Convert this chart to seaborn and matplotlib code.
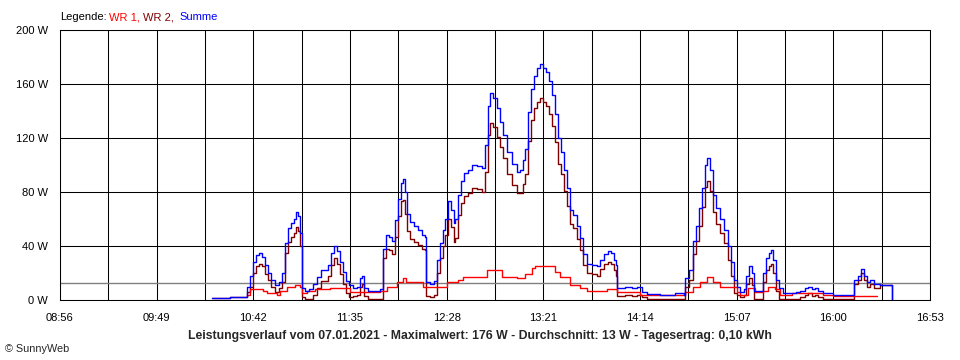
import numpy as np
import pandas as pd
import matplotlib
matplotlib.use("Agg")
import matplotlib.pyplot as plt
import seaborn as sns

# times are minutes after midnight, values in W
summe_t = [619.3, 629.2, 637.4, 638.5, 640.2, 641.8, 643.5, 645.1, 646.8, 648.4,
           650.0, 651.7, 653.9, 656.1, 657.7, 659.4, 661.0, 662.7, 664.3, 665.4,
           666.5, 667.6, 668.7, 670.3, 672.5, 674.7, 676.9, 679.1, 681.3, 682.9,
           684.6, 686.2, 687.9, 689.5, 691.2, 692.8, 694.5, 696.6, 698.8, 700.5,
           701.6, 702.7, 704.9, 708.2, 711.5, 713.1, 714.7, 716.4, 718.0, 719.7,
           721.3, 723.0, 724.1, 725.2, 726.3, 727.9, 730.1, 732.3, 734.5, 736.1,
           736.7, 738.9, 741.1, 742.7, 744.3, 746.0, 747.1, 748.7, 750.4, 752.0,
           752.6, 754.2, 755.9, 757.5, 759.7, 761.9, 764.6, 767.4, 769.0, 770.7,
           771.8, 773.4, 775.6, 777.2, 778.9, 781.1, 783.8, 786.6, 788.2, 789.9,
           791.0, 792.6, 794.2, 795.9, 797.5, 799.2, 800.8, 802.5, 804.1, 805.8,
           807.4, 809.0, 810.7, 812.3, 814.0, 815.6, 817.3, 819.5, 821.1, 822.8,
           824.9, 827.7, 830.4, 832.1, 834.3, 836.5, 838.1, 839.8, 840.8, 841.4,
           843.0, 845.8, 849.6, 852.4, 855.1, 857.8, 865.0, 873.2, 878.1, 878.7,
           880.9, 883.1, 884.7, 886.4, 888.0, 889.6, 890.7, 892.4, 894.0, 895.7,
           897.9, 900.1, 902.3, 903.9, 905.5, 907.2, 908.8, 911.0, 912.1, 913.8,
           915.4, 916.5, 919.8, 921.4, 923.1, 924.7, 925.8, 926.9, 928.6, 930.2,
           932.4, 936.2, 939.5, 941.7, 944.5, 946.1, 948.3, 950.0, 951.6, 954.3,
           959.8, 966.4, 970.8, 971.3, 973.5, 975.2, 976.8, 978.5, 980.1, 982.3,
           985.6, 990.0, 992.2]
summe_w = [1.5, 2, 2.5, 10, 18, 28, 33, 35, 32, 26,
           20, 15, 11, 13, 20, 42, 53, 57, 60, 65,
           62, 50, 9, 7, 8, 12, 17, 22, 22, 26,
           35, 40, 36, 28, 21, 14, 11, 9, 10, 16,
           18, 9, 7, 7, 8, 38, 48, 47, 44, 59,
           75, 87, 90, 80, 64, 58, 55, 52, 48, 47,
           13, 12, 14, 30, 42, 52, 60, 73, 67, 57,
           60, 78, 88, 94, 96, 100, 99, 98, 115, 144,
           153, 150, 142, 132, 122, 110, 101, 95, 96, 104,
           112, 139, 156, 166, 172, 175, 172, 169, 162, 152,
           138, 120, 110, 96, 83, 67, 63, 55, 46, 34,
           27, 26, 25, 30, 34, 36, 35, 30, 26, 9,
           9, 10, 9, 10, 6, 4.5, 4, 5, 4, 16,
           22, 44, 55, 68, 83, 100, 105, 96, 78, 68,
           60, 52, 40, 28, 15, 10, 6, 8, 18, 25,
           20, 7, 7, 20, 31, 35, 37, 30, 15, 9,
           5, 5, 6, 7, 9, 10, 8, 9, 7, 5,
           4, 4, 4, 15, 18, 23, 18, 13, 15, 12,
           11, 11, 0]
wr2_w = [1.5, 2, 2.5, 6, 10, 20, 25, 27, 25, 19,
         15, 10, 6, 9, 13, 35, 43, 47, 50, 54,
         51, 40, 2, 1, 1, 4, 9, 14, 14, 18,
         26, 31, 27, 19, 12, 5, 2, 3, 4, 10,
         12, 3, 1, 1, 1, 31, 38, 37, 34, 47,
         62, 73, 74, 64, 51, 45, 43, 41, 38, 37,
         3, 2, 4, 20, 31, 40, 48, 60, 54, 43,
         46, 63, 72, 77, 79, 83, 82, 80, 95, 122,
         131, 128, 121, 113, 105, 93, 85, 79, 79, 86,
         93, 118, 133, 142, 147, 150, 147, 144, 138, 129,
         117, 101, 93, 81, 70, 56, 53, 45, 37, 26,
         20, 19, 18, 23, 27, 28, 27, 22, 18, 3,
         3, 4, 3, 4, 2, 1, 0.5, 1, 0.5, 10,
         15, 34, 44, 55, 69, 84, 88, 81, 65, 56,
         50, 42, 30, 18, 5, 4, 2, 4, 12, 16,
         11, 1, 1, 13, 22, 25, 27, 20, 7, 1,
         1, 1, 1, 2, 4, 5, 3, 4, 2, 1,
         1, 1, 1, 12, 15, 20, 15, 10, 12, 9,
         11, 11, 0]

wr1_t = [638.5, 640.2, 644.6, 647.3, 649.5, 655.0, 656.6, 660.5, 664.8, 667.6,
         668.7, 671.4, 675.8, 684.0, 691.2, 695.0, 702.1, 711.5, 715.3, 720.8,
         724.1, 725.7, 735.0, 742.7, 748.2, 754.2, 757.0, 766.3, 770.1, 774.5,
         778.3, 786.6, 791.0, 794.8, 796.4, 803.0, 807.4, 810.1, 815.6, 821.1,
         824.9, 833.7, 835.9, 841.4, 854.0, 878.7, 883.1, 886.9, 890.7, 894.0,
         897.9, 904.4, 907.2, 908.8, 913.2, 917.1, 921.4, 924.2, 928.0, 930.8,
         937.3, 948.9, 954.3, 959.8, 983.9]
wr1_w = [4, 8, 8, 7, 5, 4, 7, 10, 11, 10,
         5, 7, 8, 9, 9, 6, 6, 7, 10, 13,
         16, 13, 10, 10, 13, 15, 17, 17, 22, 22,
         17, 16, 19, 24, 25, 25, 21, 17, 11, 9,
         7, 7, 8, 6, 3.5, 6, 10, 13, 17, 13,
         10, 10, 6, 4, 9, 6, 7, 10, 8, 4,
         5, 5, 4, 3, 3]

avg_w = 12.4
x_labels = ["08:56", "09:49", "10:42", "11:35", "12:28",
            "13:21", "14:14", "15:07", "16:00", "16:53"]
y_ticks = [0, 40, 80, 120, 160, 200]
title = ("Leistungsverlauf vom 07.01.2021 - Maximalwert: 176 W - "
         "Durchschnitt: 13 W - Tagesertrag: 0,10 kWh")

df_sum = pd.DataFrame({"t": summe_t, "Summe": summe_w, "WR 2": wr2_w})
df_wr1 = pd.DataFrame({"t": wr1_t, "WR 1": wr1_w})

sns.set_style("white")
plt.rcParams["font.family"] = ["Liberation Sans", "DejaVu Sans"]

fig = plt.figure(figsize=(9.6, 3.6), dpi=100)
ax = fig.add_axes([60 / 960, 60 / 360, 870 / 960, 270 / 360])

lab_pos = [int(s[:2]) * 60 + int(s[3:]) for s in x_labels]
grid_pos = []
grid_lab = []
for i, p in enumerate(lab_pos):
    grid_pos.append(p)
    grid_lab.append(x_labels[i])
    if i < len(lab_pos) - 1:
        grid_pos.append((p + lab_pos[i + 1]) / 2)
        grid_lab.append("")

ax.set_axisbelow(True)
ax.grid(True, color="black", lw=0.75)
ax.axhline(avg_w, color="#808080", lw=1, zorder=1.5)

sns.lineplot(data=df_sum, x="t", y="WR 2", ax=ax, color="#800000", lw=1,
             drawstyle="steps-post", estimator=None, sort=False)
sns.lineplot(data=df_wr1, x="t", y="WR 1", ax=ax, color="#ff0000", lw=1,
             drawstyle="steps-post", estimator=None, sort=False)
sns.lineplot(data=df_sum, x="t", y="Summe", ax=ax, color="#0000ff", lw=1,
             drawstyle="steps-post", estimator=None, sort=False)

ax.set_xlim(lab_pos[0], lab_pos[-1])
ax.set_ylim(0, 200)
ax.set_xticks(grid_pos)
ax.set_xticklabels(grid_lab, fontsize=8)
ax.set_yticks(y_ticks)
ax.set_yticklabels([f"{v} W" for v in y_ticks], fontsize=8)
ax.set_xlabel("")
ax.set_ylabel("")
ax.tick_params(axis="both", direction="out", length=3.6, width=0.75,
               color="black", labelcolor="black")
ax.tick_params(axis="x", pad=6)
ax.tick_params(axis="y", pad=5)
for sp in ax.spines.values():
    sp.set_color("black")
    sp.set_linewidth(0.75)

ty = 1 - 17 / 360
fig.text(60 / 960, ty, "Legende:", fontsize=8, color="black", va="center")
fig.text(109 / 960, ty, "WR 1,", fontsize=8, color="#ff0000", va="center")
fig.text(143 / 960, ty, "WR 2,", fontsize=8, color="#800000", va="center")
fig.text(179 / 960, ty, "Summe", fontsize=8, color="#0000ff", va="center")

fig.text(0.5, 24 / 360, title, fontsize=8.8, fontweight="bold",
         ha="center", va="center")
fig.text(5 / 960, 11 / 360, "© SunnyWeb", fontsize=7.8, va="center")

fig.savefig("out.png", dpi=100, facecolor="white")
